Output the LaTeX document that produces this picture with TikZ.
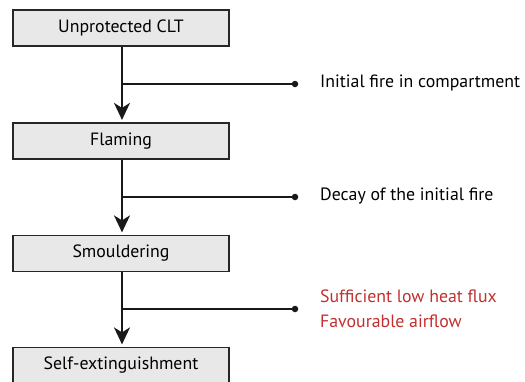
\documentclass[tikz,border=0pt]{standalone}
\usepackage{fontspec}
\setmainfont{PT Sans}
\usetikzlibrary{arrows.meta}
\definecolor{boxfill}{RGB}{232,232,232}
\definecolor{condred}{RGB}{192,48,47}
\begin{document}
\begin{tikzpicture}[x=1pt,y=-1pt,
  stage/.style={draw=black!85, line width=1.2pt, fill=boxfill, minimum width=216pt, minimum height=36pt, inner sep=0pt, font=\fontsize{17.8}{20}\selectfont},
  flow/.style={line width=2pt, draw=black!90, -{Stealth[length=17pt,width=16pt,inset=5pt]}, shorten >=2.5pt},
  branch/.style={line width=2pt, draw=black!90},
  cond/.style={anchor=west, inner sep=0pt, font=\fontsize{17.8}{20}\selectfont},
  dot/.style={circle, fill=black!90, inner sep=0pt, minimum size=6.5pt}]
\useasboundingbox (0,0) rectangle (525,381);
\begin{scope}
\clip (0,0) rectangle (525,381);
\node[stage] (s1) at (121,28) {Unprotected CLT};
\node[stage] (s2) at (121,141) {Flaming};
\node[stage] (s3) at (121,253.5) {Smouldering};
\node[stage] (s4) at (121,365.5) {Self-extinguishment};
\end{scope}
\draw[flow] (s1.south -| 122,0) -- (s2.north -| 122,0);
\draw[flow] (s2.south -| 122,0) -- (s3.north -| 122,0);
\draw[flow] (s3.south -| 122,0) -- (s4.north -| 122,0);
% side branches with their conditions
\coordinate (j1) at (122,84);
\coordinate (j2) at (122,197);
\coordinate (j3) at (122,309);
\node[dot] (d1) at (295,84) {};
\node[dot] (d2) at (295,197) {};
\node[dot] (d3) at (295,309) {};
\draw[branch] (j1) -- (d1.center);
\draw[branch] (j2) -- (d2.center);
\draw[branch] (j3) -- (d3.center);
\node[cond] (c1) at (320,83) {Initial fire in compartment};
\node[cond] (c2) at (320,196) {Decay of the initial fire};
\node[cond, text=condred] (c3a) at (320,296) {Sufficient low heat flux};
\node[cond, text=condred] (c3b) at (320,321) {Favourable airflow};
\end{tikzpicture}
\end{document}
